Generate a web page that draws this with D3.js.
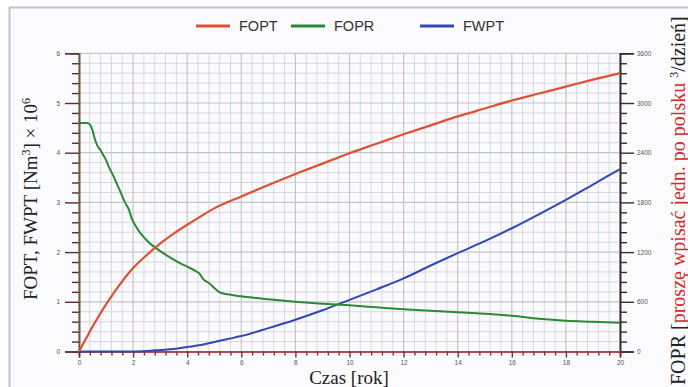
<!DOCTYPE html>
<html>
<head>
<meta charset="utf-8">
<script src="https://cdn.jsdelivr.net/npm/d3@7"></script>
<style>
  html, body { margin: 0; padding: 0; background: #ffffff; }
  svg { display: block; }
</style>
</head>
<body>
<svg id="chart" width="688" height="387"></svg>
<script>
// Production history: cumulative oil (FOPT), cumulative water (FWPT) and oil rate (FOPR)
const foptYears = [0, 0.25, 0.5, 0.75, 1, 1.25, 1.5, 1.75, 2, 2.5, 3, 3.5, 4, 4.5, 5, 6, 7, 8, 9, 10, 11, 12, 13, 14, 15, 16, 17, 18, 19, 20];
const foptValues = [0, 0.25, 0.5, 0.73, 0.95, 1.15, 1.34, 1.52, 1.68, 1.94, 2.17, 2.37, 2.55, 2.72, 2.88, 3.12, 3.35, 3.57, 3.78, 3.99, 4.18, 4.37, 4.55, 4.73, 4.89, 5.05, 5.19, 5.33, 5.47, 5.6];

const fwptYears = [0, 1, 2, 2.5, 3, 3.5, 4, 4.5, 5, 5.5, 6, 7, 8, 9, 10, 11, 12, 13, 14, 15, 16, 17, 18, 19, 20];
const fwptValues = [0, 0, 0, 0.01, 0.03, 0.05, 0.09, 0.13, 0.19, 0.25, 0.31, 0.47, 0.64, 0.83, 1.04, 1.25, 1.47, 1.73, 1.98, 2.22, 2.48, 2.76, 3.05, 3.36, 3.67];

const foprYears = [0, 0.3, 0.4, 0.5, 0.6, 0.7, 0.8, 0.9, 1.0, 1.1, 1.3, 1.5, 1.7, 1.85, 1.95, 2.1, 2.3, 2.5, 2.7, 2.9, 3.2, 3.5, 3.8, 4.1, 4.3, 4.45, 4.6, 4.8, 5.0, 5.2, 5.5, 6, 7, 8, 9, 10, 11, 12, 13, 14, 15, 16, 17, 18, 19, 20];
const foprValues = [2760, 2760, 2742, 2670, 2550, 2472, 2430, 2370, 2310, 2232, 2100, 1950, 1800, 1710, 1608, 1512, 1416, 1344, 1284, 1236, 1170, 1110, 1056, 1008, 972, 942, 870, 828, 768, 714, 690, 666, 630, 600, 576, 558, 534, 510, 492, 474, 456, 432, 396, 372, 360, 348];

const leftTicks = [0, 1, 2, 3, 4, 5, 6];
const rightTicks = [0, 600, 1200, 1800, 2400, 3000, 3600];
const bottomTicks = [0, 2, 4, 6, 8, 10, 12, 14, 16, 18, 20];

const legendItems = [
  { name: "FOPT", color: "#dd5234" },
  { name: "FOPR", color: "#2a8a36" },
  { name: "FWPT", color: "#3346b8" }
];

const svg = d3.select("#chart");

// outer frame
svg.append("rect")
  .attr("x", 9.5).attr("y", 7.5)
  .attr("width", 700).attr("height", 400)
  .attr("fill", "#fbfbfd")
  .attr("stroke", "#c4c2d2")
  .attr("stroke-width", 2);

const x = d3.scaleLinear().domain([0, 20]).range([79, 620]);
const yL = d3.scaleLinear().domain([0, 6]).range([351.5, 53.3]);
const yR = d3.scaleLinear().domain([0, 3600]).range([351.5, 53.3]);

const plot = svg.append("g");

// grid: minor lines first, major lines on top
const vMinor = d3.range(0, 20.001, 0.4).filter(v => Math.abs(v / 2 - Math.round(v / 2)) > 1e-6);
const hMinor = d3.range(0, 6.001, 0.2).filter(v => Math.abs(v - Math.round(v)) > 1e-6);

plot.append("g").selectAll("line").data(vMinor).join("line")
  .attr("x1", d => x(d)).attr("x2", d => x(d))
  .attr("y1", yL(6)).attr("y2", yL(0))
  .attr("stroke", "#cadcea").attr("stroke-width", 1);

plot.append("g").selectAll("line").data(hMinor).join("line")
  .attr("x1", x(0)).attr("x2", x(20))
  .attr("y1", d => yL(d)).attr("y2", d => yL(d))
  .attr("stroke", "#e2d2dc").attr("stroke-width", 1);

plot.append("g").selectAll("line").data(bottomTicks).join("line")
  .attr("x1", d => x(d)).attr("x2", d => x(d))
  .attr("y1", yL(6)).attr("y2", yL(0))
  .attr("stroke", "#c6c6c8").attr("stroke-width", 1.2);

plot.append("g").selectAll("line").data(leftTicks).join("line")
  .attr("x1", x(0)).attr("x2", x(20))
  .attr("y1", d => yL(d)).attr("y2", d => yL(d))
  .attr("stroke", "#c6c6c8").attr("stroke-width", 1.2);

// axes
const tickFont = "Liberation Sans, Arial, sans-serif";

function styleAxis(g, lineColor, tickColor) {
  g.select(".domain").attr("stroke", lineColor).attr("stroke-width", 1.6);
  g.selectAll(".tick line").attr("stroke", tickColor).attr("stroke-width", 1.4);
  g.selectAll(".tick text").attr("fill", "#555").attr("font-size", 6.5).attr("font-family", tickFont);
}

// left
const leftMinor = svg.append("g").attr("transform", `translate(${x(0)},0)`)
  .call(d3.axisLeft(yL).tickValues(hMinor).tickSize(7).tickFormat(""));
styleAxis(leftMinor, "#6c5c3c", "#5a2a36");
const leftMajor = svg.append("g").attr("transform", `translate(${x(0)},0)`)
  .call(d3.axisLeft(yL).tickValues(leftTicks).tickSize(14).tickPadding(5).tickFormat(d3.format("d")));
styleAxis(leftMajor, "#6c5c3c", "#5a2a36");

// right
const rMinorVals = d3.range(0, 3600.001, 120).filter(v => v % 600 !== 0);
const rightMinor = svg.append("g").attr("transform", `translate(${x(20)},0)`)
  .call(d3.axisRight(yR).tickValues(rMinorVals).tickSize(7).tickFormat(""));
styleAxis(rightMinor, "#3a3030", "#3a2a30");
const rightMajor = svg.append("g").attr("transform", `translate(${x(20)},0)`)
  .call(d3.axisRight(yR).tickValues(rightTicks).tickSize(14).tickPadding(3).tickFormat(d3.format("d")));
styleAxis(rightMajor, "#3a3030", "#3a2a30");

// bottom
const bottom = svg.append("g").attr("transform", `translate(0,${yL(0)})`);
const bMinor = bottom.append("g")
  .call(d3.axisBottom(x).tickValues(vMinor).tickSize(4).tickFormat(""));
styleAxis(bMinor, "#a8404a", "#7a2a36");
const bMajor = bottom.append("g")
  .call(d3.axisBottom(x).tickValues(bottomTicks).tickSize(6).tickPadding(3).tickFormat(d3.format("d")));
styleAxis(bMajor, "#a8404a", "#7a2a36");

// series
const lineL = (xs, ys, curve) => d3.line().x((d, i) => x(xs[i])).y(d => yL(d)).curve(curve)(ys);
const lineR = (xs, ys, curve) => d3.line().x((d, i) => x(xs[i])).y(d => yR(d)).curve(curve)(ys);

svg.append("path").attr("d", lineL(fwptYears, fwptValues, d3.curveMonotoneX))
  .attr("fill", "none").attr("stroke", legendItems[2].color).attr("stroke-width", 2);
svg.append("path").attr("d", lineR(foprYears, foprValues, d3.curveMonotoneX))
  .attr("fill", "none").attr("stroke", legendItems[1].color).attr("stroke-width", 2);
svg.append("path").attr("d", lineL(foptYears, foptValues, d3.curveMonotoneX))
  .attr("fill", "none").attr("stroke", legendItems[0].color).attr("stroke-width", 2.2);

// legend
const legendX = [196, 291, 420];
const legend = svg.append("g");
legendItems.forEach((item, i) => {
  legend.append("line")
    .attr("x1", legendX[i]).attr("x2", legendX[i] + 34)
    .attr("y1", 26).attr("y2", 26)
    .attr("stroke", item.color).attr("stroke-width", 3);
  legend.append("text")
    .attr("x", legendX[i] + 43).attr("y", 31)
    .attr("font-family", tickFont).attr("font-size", 14.5)
    .attr("fill", "#333").text(item.name);
});

// axis titles
const serif = "Liberation Serif, Times New Roman, serif";

const leftTitle = svg.append("text")
  .attr("transform", "translate(37,199) rotate(-90)")
  .attr("text-anchor", "middle")
  .attr("font-family", serif).attr("font-size", 19).attr("fill", "#222");
leftTitle.append("tspan").text("FOPT, FWPT [Nm");
leftTitle.append("tspan").attr("baseline-shift", "super").attr("font-size", 12).text("3");
leftTitle.append("tspan").text("] × 10");
leftTitle.append("tspan").attr("baseline-shift", "super").attr("font-size", 12).text("6");

const rightTitle = svg.append("text")
  .attr("transform", "translate(685,385) rotate(-90)")
  .attr("text-anchor", "start")
  .attr("font-family", serif).attr("font-size", 20).attr("fill", "#222");
rightTitle.append("tspan").text("FOPR [");
rightTitle.append("tspan").attr("fill", "#d42a2a").text("proszę wpisać jedn. po polsku");
rightTitle.append("tspan").text(" ");
rightTitle.append("tspan").attr("baseline-shift", "super").attr("font-size", 12).text("3");
rightTitle.append("tspan").text("/dzień]");

svg.append("text")
  .attr("x", 349).attr("y", 384)
  .attr("text-anchor", "middle")
  .attr("font-family", serif).attr("font-size", 19).attr("fill", "#222")
  .text("Czas [rok]");
</script>
</body>
</html>
